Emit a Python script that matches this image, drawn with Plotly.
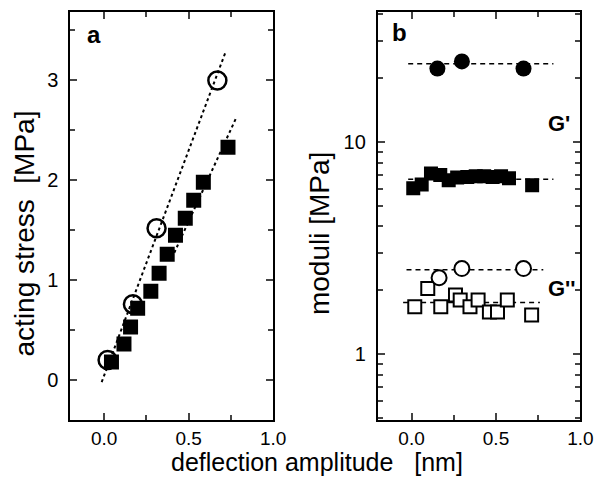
import plotly.graph_objects as go

# Panel a: acting stress vs deflection amplitude
a_circ_x = [0.02, 0.17, 0.31, 0.67]
a_circ_y = [0.20, 0.76, 1.52, 3.00]
a_sq_x = [0.043, 0.117, 0.156, 0.198, 0.276, 0.325, 0.373, 0.422, 0.48, 0.53, 0.587, 0.733]
a_sq_y = [0.18, 0.36, 0.53, 0.72, 0.89, 1.07, 1.26, 1.45, 1.62, 1.80, 1.98, 2.33]
a_fit_circ_x = [-0.015, 0.72]
a_fit_circ_y = [-0.02, 3.29]
a_fit_sq_x = [0.40, 0.78]
a_fit_sq_y = [1.22, 2.62]

# Panel b: moduli vs deflection amplitude
b_Gp_circ_x = [0.153, 0.298, 0.663]
b_Gp_circ_y = [22.2, 24.0, 22.2]
b_Gp_sq_x = [0.01, 0.06, 0.115, 0.17, 0.22, 0.27, 0.33, 0.38, 0.43, 0.48, 0.53, 0.577, 0.714]
b_Gp_sq_y = [6.05, 6.3, 7.1, 7.0, 6.6, 6.8, 6.85, 6.9, 6.9, 6.85, 6.9, 6.75, 6.25]
b_Gpp_circ_x = [0.163, 0.298, 0.663]
b_Gpp_circ_y = [2.29, 2.53, 2.53]
b_Gpp_sq_x = [0.019, 0.096, 0.173, 0.26, 0.288, 0.346, 0.394, 0.461, 0.509, 0.567, 0.711]
b_Gpp_sq_y = [1.67, 2.04, 1.67, 1.90, 1.80, 1.67, 1.80, 1.58, 1.58, 1.80, 1.53]
b_lines_x = [[-0.02, 0.84], [-0.02, 0.84], [-0.03, 0.78], [-0.05, 0.76]]
b_lines_y = [23.4, 6.67, 2.5, 1.75]

FONT = "Liberation Sans, Arial, sans-serif"
fig = go.Figure()

# panel a
fig.add_trace(go.Scatter(x=a_fit_circ_x, y=a_fit_circ_y, mode="lines",
                         line=dict(color="black", width=2, dash="dot"), xaxis="x", yaxis="y"))
fig.add_trace(go.Scatter(x=a_fit_sq_x, y=a_fit_sq_y, mode="lines",
                         line=dict(color="black", width=2, dash="dot"), xaxis="x", yaxis="y"))
fig.add_trace(go.Scatter(x=a_sq_x, y=a_sq_y, mode="markers",
                         marker=dict(symbol="square", size=15, color="black"), xaxis="x", yaxis="y"))
fig.add_trace(go.Scatter(x=a_circ_x, y=a_circ_y, mode="markers",
                         marker=dict(symbol="circle-open", size=18, color="black", line=dict(width=2.5)),
                         xaxis="x", yaxis="y"))

# panel b
for lx, ly in zip(b_lines_x, b_lines_y):
    fig.add_trace(go.Scatter(x=lx, y=[ly, ly], mode="lines",
                             line=dict(color="black", width=1.5, dash="5px,4px"), xaxis="x2", yaxis="y2"))
fig.add_trace(go.Scatter(x=b_Gp_circ_x, y=b_Gp_circ_y, mode="markers",
                         marker=dict(symbol="circle", size=16, color="black"), xaxis="x2", yaxis="y2"))
fig.add_trace(go.Scatter(x=b_Gp_sq_x, y=b_Gp_sq_y, mode="markers",
                         marker=dict(symbol="square", size=14, color="black"), xaxis="x2", yaxis="y2"))
fig.add_trace(go.Scatter(x=b_Gpp_sq_x, y=b_Gpp_sq_y, mode="markers",
                         marker=dict(symbol="square", size=13, color="white", line=dict(width=2, color="black")),
                         xaxis="x2", yaxis="y2"))
fig.add_trace(go.Scatter(x=b_Gpp_circ_x, y=b_Gpp_circ_y, mode="markers",
                         marker=dict(symbol="circle", size=15, color="white", line=dict(width=2, color="black")),
                         xaxis="x2", yaxis="y2"))

tickfont = dict(family=FONT, size=20, color="black")
axis_common = dict(ticks="inside", ticklen=7, tickwidth=1.5, mirror="allticks", showline=True,
                   linewidth=2, linecolor="black", showgrid=False, zeroline=False, tickfont=tickfont)
common_x = dict(axis_common, range=[-0.2, 1.0], tickvals=[0.0, 0.5, 1.0], ticktext=["0.0", "0.5", "1.0"],
                ticklabelstandoff=0, tickfont=dict(family=FONT, size=19, color="black"),
                minor=dict(tickvals=[0.25, 0.75], ticks="inside", ticklen=5, tickwidth=1.5))

fig.update_layout(
    width=612, height=477, margin=dict(l=0, r=0, t=0, b=0),
    paper_bgcolor="white", plot_bgcolor="white", showlegend=False,
    xaxis=dict(common_x, domain=[0.1176, 0.4559], anchor="y"),
    yaxis=dict(axis_common, range=[-0.4, 3.68], tickvals=[0, 1, 2, 3], domain=[0.1195, 0.9738],
               ticklabelstandoff=6,
               minor=dict(tickvals=[-0.5, 0.5, 1.5, 2.5, 3.5], ticks="inside", ticklen=5, tickwidth=1.5),
               anchor="x"),
    xaxis2=dict(common_x, domain=[0.6307, 0.969], anchor="y2"),
    yaxis2=dict(axis_common, type="log", range=[-0.311, 1.611], tickvals=[1, 10], ticktext=["1", "10"],
                domain=[0.1195, 0.9738], ticklabelstandoff=6,
                minor=dict(tickvals=[0.5, 0.6, 0.7, 0.8, 0.9, 2, 3, 4, 5, 6, 7, 8, 9, 20, 30, 40],
                           ticks="inside", ticklen=5, tickwidth=1.5),
                anchor="x2"),
)

ann = [
    dict(text="acting stress  [MPa]", x=26, y=233, textangle=-90, size=28, bold=False),
    dict(text="moduli [MPa]", x=326, y=234, textangle=-90, size=28, bold=False),
    dict(text="deflection amplitude   [nm]", x=324, y=462, textangle=0, size=25, bold=False),
    dict(text="a", x=96, y=34, textangle=0, size=24, bold=True),
    dict(text="b", x=408, y=33, textangle=0, size=24, bold=True),
    dict(text="G'", x=571, y=124, textangle=0, size=22, bold=True),
    dict(text="G''", x=574, y=288, textangle=0, size=22, bold=True),
]
for a in ann:
    txt = f"<b>{a['text']}</b>" if a["bold"] else a["text"]
    fig.add_annotation(text=txt, x=a["x"] / 612, y=1 - a["y"] / 477, xref="paper", yref="paper",
                       showarrow=False, textangle=a["textangle"], xanchor="center", yanchor="middle",
                       font=dict(family=FONT, size=a["size"], color="black"))

fig.write_html("out.html")
